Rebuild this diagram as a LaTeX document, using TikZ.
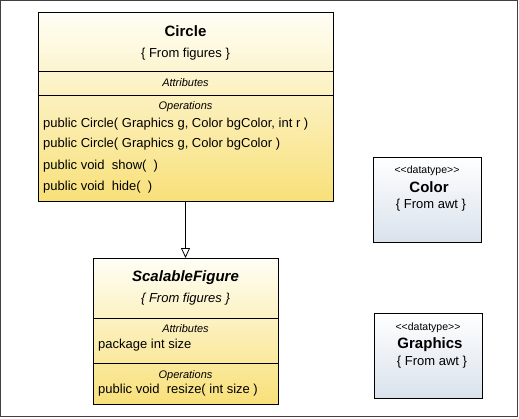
\documentclass[tikz,border=0pt]{standalone}
\usepackage{fontspec}
\setmainfont{Liberation Sans}
\newfontfamily\plainsans{Liberation Sans}
\usetikzlibrary{arrows.meta}
\definecolor{ytop}{HTML}{FFFEF6}
\definecolor{ybot}{HTML}{F8E079}
\definecolor{btop}{HTML}{FFFFFF}
\definecolor{bbot}{HTML}{D9E2EC}
\definecolor{frame}{HTML}{404040}
\begin{document}
\begin{tikzpicture}[x=1pt,y=-1pt,
  classbox/.style={draw=black, line width=1pt, inner sep=0pt, outer sep=0pt, top color=ytop, bottom color=ybot},
  typebox/.style={draw=black, line width=1pt, inner sep=0pt, outer sep=0pt, top color=btop, bottom color=bbot},
  title/.style={font=\fontsize{15}{17}\selectfont\bfseries, inner sep=0pt, anchor=base},
  sub/.style={font=\fontsize{13}{15}\selectfont, inner sep=0pt, anchor=base},
  sect/.style={font=\fontsize{11}{13}\selectfont\itshape, inner sep=0pt, anchor=base},
  member/.style={font=\fontsize{13}{15}\selectfont, inner sep=0pt, anchor=base west},
  stereo/.style={font=\plainsans\fontsize{10.5}{12}\selectfont, inner sep=0pt, anchor=base},
  divider/.style={draw=black, line width=0.8pt}]
\useasboundingbox (0,0) rectangle (519,418);
\draw[frame, line width=1pt] (0.5,0.5) rectangle (517.5,416.5);

% Circle
\node[classbox, minimum width=295pt, minimum height=189pt] (circle) at (185.5,106.5) {};
\node[title] (ct) at (185.5,36) {Circle};
\node[sub] (cs) at (185.5,57) {\{ From figures \}};
\draw[divider] (38,71) -- (333,71);
\node[sect] (ca) at (185.5,86) {Attributes};
\draw[divider] (38,95) -- (333,95);
\node[sect] (co) at (185.5,109) {Operations};
\node[member] (c1) at (43,127) {public Circle( Graphics g, Color bgColor, int r )};
\node[member] (c2) at (43,147) {public Circle( Graphics g, Color bgColor )};
\node[member] (c3) at (43,169) {public void\ \ show(\ \ )};
\node[member] (c4) at (43,190) {public void\ \ hide(\ \ )};

% ScalableFigure
\node[classbox, minimum width=185pt, minimum height=146pt] (scal) at (185.5,331) {};
\node[title, font=\fontsize{15}{17}\selectfont\bfseries\itshape] (st) at (185.5,281) {ScalableFigure};
\node[sub, font=\fontsize{13}{15}\selectfont\itshape] (ss) at (185.5,302) {\{ From figures \}};
\draw[divider] (93,318) -- (278,318);
\node[sect] (sa) at (185.5,332) {Attributes};
\node[member] (s1) at (98,348) {package int size};
\draw[divider] (93,363) -- (278,363);
\node[sect] (so) at (185.5,378) {Operations};
\node[member] (s2) at (98,393) {public void\ \ resize( int size )};

% Color
\node[typebox, minimum width=108pt, minimum height=85pt] (color) at (427,199.5) {};
\node[stereo] (cst) at (427,173) {<<datatype>>};
\node[title] (cn) at (429,192) {Color};
\node[sub] (cf) at (431,208) {\{ From awt \}};

% Graphics
\node[typebox, minimum width=108pt, minimum height=85pt] (graphics) at (428,355.5) {};
\node[stereo] (gst) at (428,330) {<<datatype>>};
\node[title] (gn) at (430,348) {Graphics};
\node[sub] (gf) at (432,365) {\{ From awt \}};

% Generalization
\draw[line width=0.8pt, -{Triangle[open, length=10pt, width=9pt]}] (circle.south) -- (scal.north);
\end{tikzpicture}
\end{document}
